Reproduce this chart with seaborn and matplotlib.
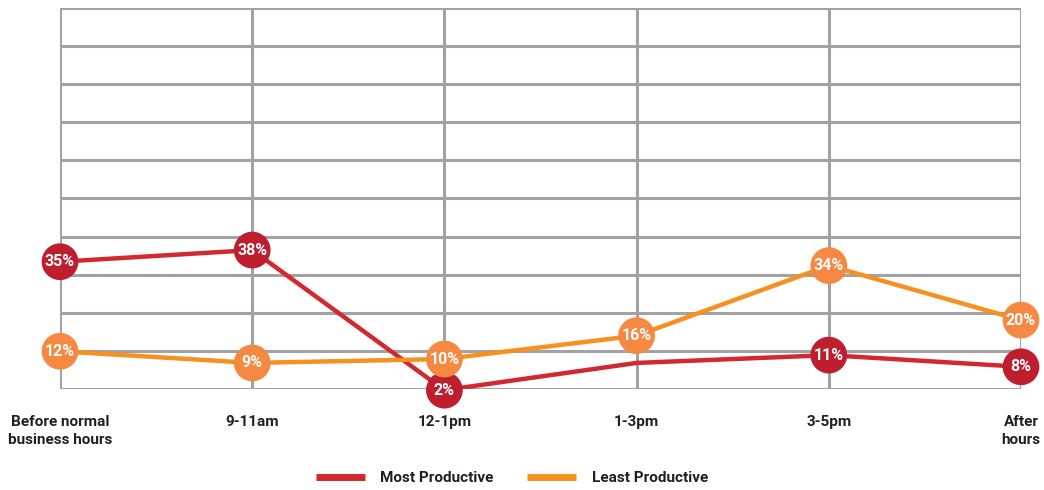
import numpy as np
import pandas as pd
import seaborn as sns
import matplotlib.pyplot as plt

# dados do gráfico
periodos = ['Before normal\nbusiness hours', '9-11am', '12-1pm', '1-3pm', '3-5pm', 'After\nhours']
most_productive = [35, 38, 2, 9, 11, 8]
least_productive = [12, 9, 10, 16, 34, 20]
# rótulos dos círculos (None = sem marcador)
most_labels = ['35%', '38%', '2%', None, '11%', '8%']
least_labels = ['12%', '9%', '10%', '16%', '34%', '20%']

series = ['Most Productive', 'Least Productive']
line_colors = {'Most Productive': '#D2282E', 'Least Productive': '#F7901E'}
dot_colors = {'Most Productive': '#BE1E2D', 'Least Productive': '#F58942'}
grid_color = '#A0A2A5'

df = pd.DataFrame({
    'x': list(range(len(periodos))) * 2,
    'valor': most_productive + least_productive,
    'serie': ['Most Productive'] * len(periodos) + ['Least Productive'] * len(periodos),
    'rotulo': most_labels + least_labels,
})

sns.set_style('white')
plt.rcParams['font.family'] = ['Roboto', 'DejaVu Sans']

fig = plt.figure(figsize=(10.44, 4.9), dpi=100)
ax = fig.add_axes([60 / 1044, 101 / 490, 961 / 1044, 381 / 490])

# grade
ymin, ymax = 2.3, 100.2
ax.set_ylim(ymin, ymax)
ax.set_xlim(0, len(periodos) - 1)
for yv in np.linspace(ymin, ymax, 11):
    ax.axhline(yv, color=grid_color, lw=2.2, zorder=0)
for xv in range(len(periodos)):
    ax.axvline(xv, color=grid_color, lw=2.2, zorder=0)

sns.lineplot(data=df, x='x', y='valor', hue='serie', hue_order=series,
             palette=line_colors, lw=3.2, ax=ax, zorder=2, legend=True)
for ln in ax.lines[-2:]:
    ln.set_clip_on(False)
    ln.set_solid_capstyle('butt')

# marcadores com rótulos
for s, z in [('Most Productive', 3), ('Least Productive', 4)]:
    sub = df[(df['serie'] == s) & df['rotulo'].notna()]
    ax.scatter(sub['x'], sub['valor'], s=700, color=dot_colors[s],
               edgecolor='none', zorder=z, clip_on=False)
    for _, r in sub.iterrows():
        ax.text(r['x'], r['valor'], r['rotulo'], color='white', fontsize=11.5,
                fontweight='bold', ha='center', va='center', zorder=z + 0.5)

ax.set_xticks(range(len(periodos)))
ax.set_xticklabels(periodos, fontsize=11, fontweight='bold', color='#231F20',
                   linespacing=1.3)
ax.tick_params(axis='x', length=6, width=2.2, color=grid_color, pad=13)
ax.set_yticks([])
ax.set_xlabel('')
ax.set_ylabel('')
for sp in ax.spines.values():
    sp.set_visible(False)

leg = ax.legend(loc='center', bbox_to_anchor=(512 / 1044, 12 / 490),
                bbox_transform=fig.transFigure, ncol=2, frameon=False,
                handlelength=3.2, handletextpad=1.0, columnspacing=2.2,
                prop={'size': 11, 'weight': 'bold'})
for h in leg.get_lines():
    h.set_linewidth(5)
    h.set_solid_capstyle('butt')
for t in leg.get_texts():
    t.set_color('#231F20')

plt.savefig('out.png', dpi=100)
